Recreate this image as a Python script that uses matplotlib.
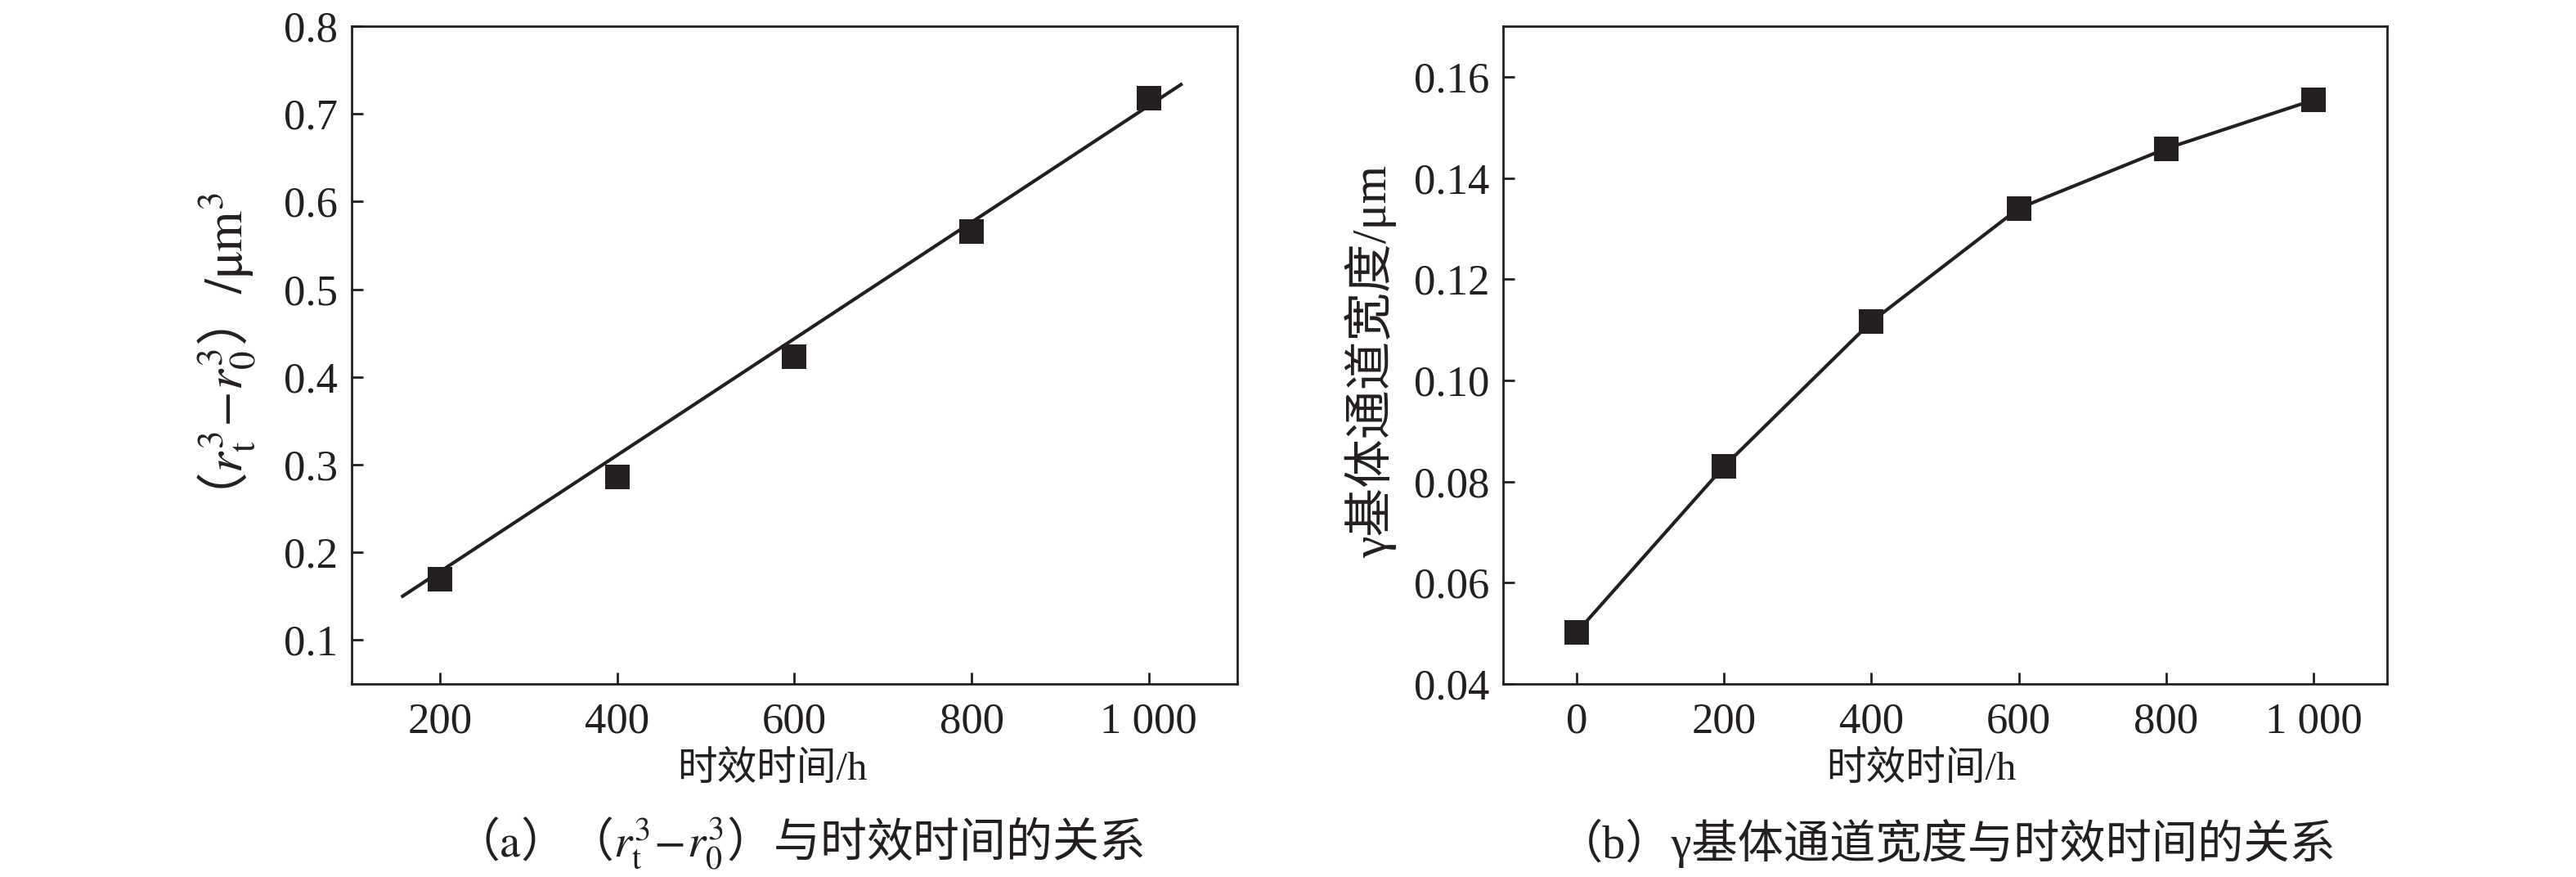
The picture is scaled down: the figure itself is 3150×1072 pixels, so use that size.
import numpy as np
import matplotlib
matplotlib.use("Agg")
import matplotlib.pyplot as plt

# ---------------- data ----------------
a_time = [200, 400, 600, 800, 1000]
a_value = [0.169, 0.286, 0.423, 0.566, 0.718]
a_fit_x = [156, 1038]
a_fit_y = [0.149, 0.7345]

b_time = [0, 200, 400, 600, 800, 1000]
b_width = [0.0502, 0.083, 0.1116, 0.1340, 0.1458, 0.1554]

a_xticks = [200, 400, 600, 800, 1000]
a_xticklabels = ["200", "400", "600", "800", "1 000"]
a_yticks = [0.1, 0.2, 0.3, 0.4, 0.5, 0.6, 0.7, 0.8]
b_xticks = [0, 200, 400, 600, 800, 1000]
b_xticklabels = ["0", "200", "400", "600", "800", "1 000"]
b_yticks = [0.04, 0.06, 0.08, 0.10, 0.12, 0.14, 0.16]

xlabel_text = "时效时间/h"
a_ylabel = "（$r_{\\mathrm{t}}^{3}\\!-\\!r_{0}^{3}$）$\\mathrm{/μm}^{3}$"
b_ylabel = "γ基体通道宽度/μm"
a_caption = "（$\\mathrm{a}$）（$r_{\\mathrm{t}}^{3}\\!-\\!r_{0}^{3}$）与时效时间的关系"
b_caption = "（b）γ基体通道宽度与时效时间的关系"

# ---------------- style ----------------
plt.rcParams['font.family'] = ['Liberation Serif', 'Noto Sans CJK SC', 'DejaVu Sans']
plt.rcParams['mathtext.fontset'] = 'stix'
CJK_FIRST = ['Noto Sans CJK SC', 'Liberation Serif', 'DejaVu Sans']
INK = '#231f20'

fig = plt.figure(figsize=(31.5, 10.72), dpi=100)
W, H = 3150, 1072
ax1 = fig.add_axes([430 / W, 1 - 836 / H, (1513 - 430) / W, (836 - 32) / H])
ax2 = fig.add_axes([1838 / W, 1 - 836 / H, (2919 - 1838) / W, (836 - 32) / H])

TICK_FS = 38
LABEL_FS = 35

for ax in (ax1, ax2):
    for s in ax.spines.values():
        s.set_linewidth(2.0)
        s.set_color(INK)
    ax.tick_params(direction='in', length=10, width=2.0, color=INK,
                   labelsize=TICK_FS, labelcolor=INK, pad=12)
    ax.tick_params(axis='x', pad=16)
    ax.tick_params(top=False, right=False)

# panel (a)
ax1.plot(a_fit_x, a_fit_y, color=INK, lw=3.0, solid_capstyle='butt')
ax1.plot(a_time, a_value, linestyle='none', marker='s', markersize=21,
         color=INK, markeredgewidth=0)
ax1.set_xlim(100, 1100)
ax1.set_ylim(0.05, 0.8)
ax1.set_xticks(a_xticks)
ax1.set_xticklabels(a_xticklabels)
ax1.set_yticks(a_yticks)
ax1.set_yticklabels([f"{v:.1f}" for v in a_yticks])
ax1.set_xlabel(xlabel_text, fontsize=LABEL_FS, color=INK)
ax1.xaxis.set_label_coords(0.475, -0.13)
ax1.xaxis.label.set_va('center')
ax1.set_ylabel(a_ylabel, fontsize=46, color=INK, family=CJK_FIRST)
ax1.yaxis.set_label_coords(-0.140, 0.495)
ax1.yaxis.label.set_va('center')

# panel (b)
ax2.plot(b_time, b_width, color=INK, lw=3.0, marker='s', markersize=21,
         markeredgewidth=0)
ax2.set_xlim(-100, 1100)
ax2.set_ylim(0.04, 0.17)
ax2.set_xticks(b_xticks)
ax2.set_xticklabels(b_xticklabels)
ax2.set_yticks(b_yticks)
ax2.set_yticklabels([f"{v:.2f}" for v in b_yticks])
ax2.set_xlabel(xlabel_text, fontsize=LABEL_FS, color=INK)
ax2.xaxis.set_label_coords(0.473, -0.13)
ax2.xaxis.label.set_va('center')
ax2.set_ylabel(b_ylabel, fontsize=43, color=INK)
ax2.yaxis.set_label_coords(-0.150, 0.49)
ax2.yaxis.label.set_va('center')

# captions
fig.text(977 / W, 1 - 1031 / H, a_caption, fontsize=41, color=INK,
         ha='center', va='center', family=CJK_FIRST)
fig.text(2380 / W, 1 - 1031 / H, b_caption, fontsize=40.5, color=INK,
         ha='center', va='center')

fig.savefig("out.png", dpi=100, facecolor='white')
